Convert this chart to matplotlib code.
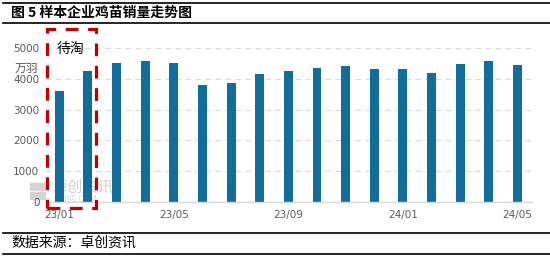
import matplotlib
matplotlib.use('Agg')
import matplotlib.pyplot as plt
from matplotlib.patches import Rectangle
from matplotlib.lines import Line2D
import numpy as np

plt.rcParams['font.family'] = ['Noto Sans CJK SC', 'DejaVu Sans']

months = ['23/01', '23/02', '23/03', '23/04', '23/05', '23/06', '23/07', '23/08', '23/09',
          '23/10', '23/11', '23/12', '24/01', '24/02', '24/03', '24/04', '24/05']
sales = [3616, 4267, 4528, 4583, 4528, 3801, 3866, 4160, 4257,
         4355, 4420, 4322, 4322, 4192, 4485, 4583, 4453]
yticks = [0, 1000, 2000, 3000, 4000, 5000]
shown_labels = ['23/01', '23/05', '23/09', '24/01', '24/05']

bar_color = '#136D9B'
grey = '#595959'

fig = plt.figure(figsize=(5.5, 2.57), dpi=100)
ax = fig.add_axes([0.0818, 0.2152, 0.8849, 0.657])

x = np.arange(len(months))
ax.bar(x, sales, width=0.31, color=bar_color, zorder=3)

ax.set_xlim(-0.5, len(months) - 0.5)
ax.set_ylim(0, 5500)
ax.set_yticks(yticks)
ax.set_yticklabels([str(v) for v in yticks], fontsize=7.5, color=grey, family='DejaVu Sans')
tick_pos = [months.index(m) for m in shown_labels]
ax.set_xticks(tick_pos)
ax.set_xticklabels(shown_labels, fontsize=7.5, color=grey, family='DejaVu Sans')
ax.tick_params(length=0, pad=4)
ax.tick_params(axis='x', pad=6)

ax.grid(axis='y', color='#D9D9D9', linestyle=(0, (5, 4)), linewidth=0.8, zorder=0)
for s in ['top', 'right', 'left']:
    ax.spines[s].set_visible(False)
ax.spines['bottom'].set_color('#D9D9D9')
ax.spines['bottom'].set_linewidth(1)
ax.spines['bottom'].set_zorder(4)

# unit label
fig.text(15 / 550, 1 - 68 / 257, '万羽', fontsize=8.5, color=grey, va='center', ha='left')

# watermark (behind the bars)
for (lx, ly) in [(30, 183), (38, 183), (30, 192), (38, 192)]:
    ax.add_patch(Rectangle((lx / 550, 1 - (ly + 7) / 257), 7 / 550, 7 / 257,
                           transform=fig.transFigure, color='#D4D4D4', zorder=1, clip_on=False))
ax.text(52 / 550, 1 - 187 / 257, '卓创资讯', fontsize=11, color='#D0D0D0', va='center', ha='left',
        transform=fig.transFigure, zorder=1)
ax.text(55 / 550, 1 - 200 / 257, 'SCI99.COM', fontsize=6, color='#D8D8D8', va='center', ha='left',
        transform=fig.transFigure, zorder=1)

# red dashed box around 待淘
box = Rectangle((46.5 / 550, 1 - 208 / 257), (96 - 46.5) / 550, (208 - 29) / 257,
                transform=fig.transFigure, fill=False, edgecolor='#C00000',
                linewidth=2.3, linestyle=(0, (4, 3)), zorder=6)
fig.patches.append(box)
fig.text(57 / 550, 1 - 49 / 257, '待淘', fontsize=10, color='black', va='center', ha='left')

# title and source
fig.text(11 / 550, 1 - 13 / 257, '图 5 样本企业鸡苗销量走势图', fontsize=10, fontweight='bold',
         va='center', ha='left')
fig.text(11 / 550, 1 - 243 / 257, '数据来源：卓创资讯', fontsize=10, va='center', ha='left')
for yy in [2.5, 23, 232.5, 253.5]:
    fig.add_artist(Line2D([3 / 550, 1], [1 - yy / 257, 1 - yy / 257], color='black',
                          linewidth=1.2, transform=fig.transFigure))

fig.savefig('out.png', dpi=100)
